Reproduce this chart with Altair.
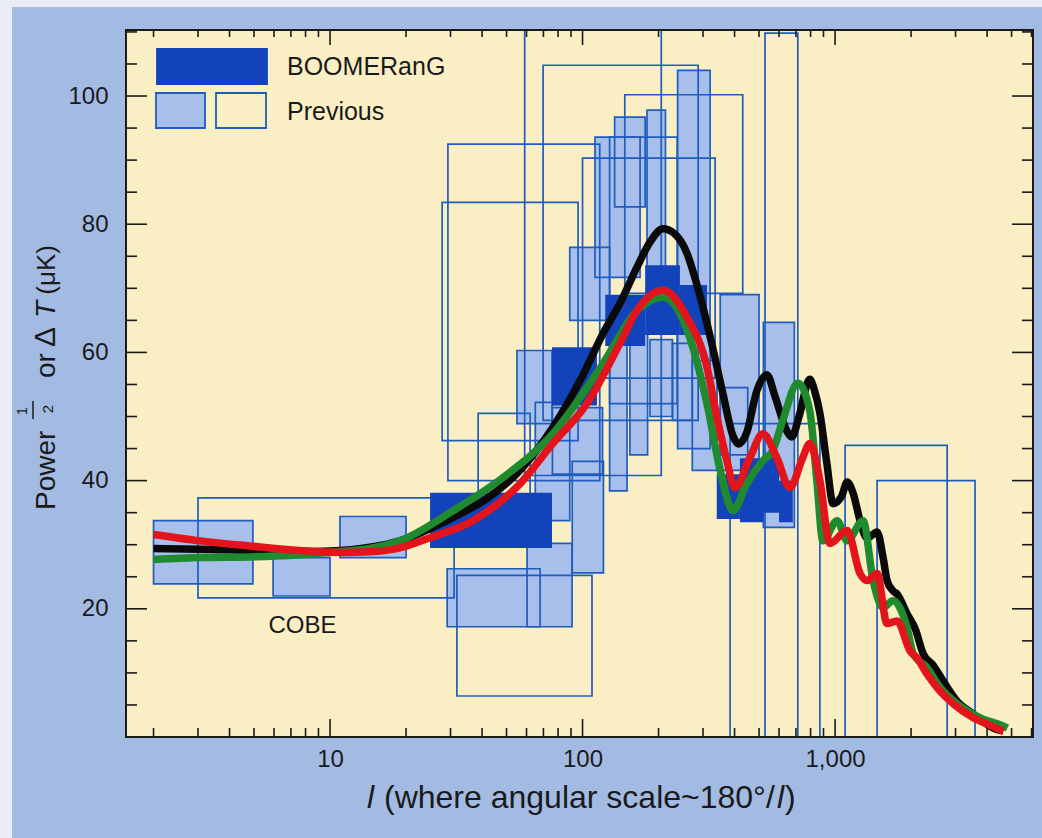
import altair as alt
import pandas as pd

W, H = 907, 707
X_DOM = [1.556, 6080]
Y_DOM = [0, 110.3]

# ---- BOOMERanG band powers (multipole range, ΔT range in μK) ----
boom_l_lo = [24.9, 75.7, 123.0, 177.0, 243.0, 340.0, 420.0, 520.0, 600.0]
boom_l_hi = [75.7, 114.0, 177.0, 243.0, 311.0, 420.0, 520.0, 600.0, 680.0]
boom_t_lo = [29.5, 51.7, 61.0, 62.7, 62.7, 34.0, 33.5, 35.0, 33.5]
boom_t_hi = [38.1, 60.8, 69.0, 73.6, 70.5, 41.0, 43.5, 44.0, 40.0]

# ---- previous experiments: filled boxes ----
prevf_l_lo = [2.0, 5.95, 10.95, 29.1, 60.3, 55.0, 65.0, 76.0, 91.0, 89.0, 112.0, 134.0, 180.0, 238.0,
              351.0, 520.0, 128.0, 154.0, 185.0, 227.0, 272.0, 351.0]
prevf_l_hi = [4.95, 10.0, 20.0, 67.9, 90.9, 75.7, 89.0, 120.0, 121.0, 128.0, 169.0, 177.0, 213.0, 320.0,
              500.0, 690.0, 150.0, 181.0, 227.0, 272.0, 341.0, 451.0]
prevf_t_lo = [23.9, 22.0, 28.0, 17.2, 17.2, 48.9, 33.75, 41.0, 25.6, 65.0, 71.7, 82.7, 68.0, 45.0,
              41.6, 32.7, 38.4, 44.0, 50.0, 49.4, 41.6, 44.0]
prevf_t_hi = [33.75, 28.0, 34.4, 26.25, 30.2, 60.3, 52.2, 51.4, 43.0, 76.4, 93.6, 96.7, 97.8, 104.0,
              69.0, 64.7, 62.0, 63.0, 62.0, 61.4, 58.75, 54.5]

# ---- previous experiments: open boxes ----
prevo_l_lo = [3.0, 27.8, 29.3, 59.0, 69.8, 147.0, 100.0, 128.0, 38.6, 31.8,
              528.0, 384.0, 1096.0, 1467.0]
prevo_l_hi = [31.0, 96.0, 117.0, 205.0, 287.0, 431.0, 335.0, 237.0, 62.0, 109.0,
              712.0, 871.0, 2780.0, 3584.0]
prevo_t_lo = [21.7, 46.25, 40.0, 40.8, 49.4, 69.2, 56.0, 52.0, 36.0, 6.4,
              0.0, 0.0, 0.0, 0.0]
prevo_t_hi = [37.3, 83.4, 92.5, 115.0, 104.8, 100.2, 90.3, 93.6, 50.5, 25.2,
              109.8, 48.9, 45.5, 40.0]

# ---- model curves ----
black_l = [2.0, 3.06, 4.82, 7.6, 10, 14.4, 18.9, 24.9, 32.7, 41.8, 56.5, 76.3, 97.8, 120.7, 140.9,
           164.3, 185, 208, 230, 259, 284, 320, 360, 394, 415, 447, 490, 537, 580, 640, 674, 720,
           794, 830, 871, 928, 982, 1060, 1117, 1180, 1256, 1338, 1467, 1550, 1607, 1697, 1760,
           1930, 2076, 2233, 2445, 2679, 3042, 3524, 4232, 4640]
black_t = [29.4, 29.3, 29.1, 28.9, 29.0, 29.6, 30.6, 32.5, 34.8, 37.2, 41.6, 48.3, 55.6, 63.0, 67.7,
           73.3, 77.2, 79.3, 78.6, 75.5, 70.5, 62.5, 53.5, 47.0, 45.7, 47.5, 54.0, 56.5, 53.0, 48.0, 46.8, 50.0,
           55.8, 54.0, 50.5, 42.7, 36.4, 37.5, 39.8, 38.0, 33.75, 31.0, 32.0, 28.0, 24.4, 22.8, 22.3,
           19.2, 16.9, 13.0, 11.2, 8.75, 5.6, 3.6, 1.4, 0.9]

red_l = [2.0, 3.06, 4.82, 7.6, 11, 14.4, 18.9, 24.9, 36.8, 56.5, 76.3, 104, 141, 164, 208, 259, 311,
         341, 373, 401, 460, 518, 588, 662, 745, 794, 871, 954, 1117, 1256, 1338, 1467, 1607, 1760,
         1983, 2114, 2316, 2536, 2935, 3524, 4006, 4640]
red_t = [31.6, 30.6, 29.8, 29.1, 28.8, 28.9, 29.5, 31.1, 33.75, 39.5, 45.8, 52.0, 61.5, 66.5, 69.7, 65.5, 57.7,
         49.8, 43.1, 38.9, 43.6, 47.3, 43.6, 38.9, 43.6, 45.8, 40.0, 30.2, 32.2, 25.5, 24.4, 25.5, 17.7, 18.1,
         13.4, 12.3, 9.8, 7.7, 5.2, 3.0, 2.0, 0.9]

green_l = [2.0, 3.06, 4.82, 6.9, 10, 14.4, 18.9, 30.7, 48.5, 76.3, 120.7, 164, 208, 266, 311, 351, 394,
           447, 518, 567, 621, 712, 794, 847, 895, 1019, 1117, 1290, 1415, 1549, 1697, 1930, 2038,
           2316, 2607, 3042, 3757, 4640, 4815]
green_t = [27.7, 28.0, 28.1, 28.3, 28.8, 29.4, 30.6, 35.3, 40.5, 47.3, 58.3, 66.5, 68.6, 62.3, 52.0, 41.6, 35.3,
           39.5, 43.1, 44.7, 49.4, 55.2, 50.9, 40.0, 30.6, 33.75, 30.6, 33.75, 24.4, 20.2, 21.25, 17.0, 13.0,
           10.8, 7.7, 5.2, 3.0, 1.7, 1.4]

# ---- axis ticks ----
x_major = [10, 100, 1000]
x_minor = [2, 3, 4, 5, 6, 7, 8, 9, 20, 30, 40, 50, 60, 70, 80, 90,
           200, 300, 400, 500, 600, 700, 800, 900, 2000, 3000, 4000, 5000, 6000]
y_major = [20, 40, 60, 80, 100]
y_minor = [5, 10, 15, 25, 30, 35, 45, 50, 55, 65, 70, 75, 85, 90, 95, 105, 110]

BLUE_BG = "#A3BBE3"
PAPER = "#FAEFC4"
LIGHT = "#A9BFEB"
EDGE = "#1E5DBE"
DARK = "#1243BB"
INK = "#1a1a1a"
FONT = "Liberation Sans"

xs = alt.Scale(type="log", domain=X_DOM, nice=False)
ys = alt.Scale(domain=Y_DOM, nice=False, zero=False)
x_axis = alt.Axis(values=x_major, format=",", title=None, tickSize=0, domain=False, grid=False,
                  labelFontSize=24, labelFont=FONT, labelColor=INK, labelPadding=10, zindex=2)
y_axis = alt.Axis(values=y_major, title=None, tickSize=0, domain=False, grid=False,
                  labelFontSize=24, labelFont=FONT, labelColor=INK, labelPadding=18, zindex=2)


def X(field):
    return alt.X(field, scale=xs, axis=x_axis)


def Y(field):
    return alt.Y(field, scale=ys, axis=y_axis)


boom = pd.DataFrame({"l0": boom_l_lo, "l1": boom_l_hi, "t0": boom_t_lo, "t1": boom_t_hi})
prevf = pd.DataFrame({"l0": prevf_l_lo, "l1": prevf_l_hi, "t0": prevf_t_lo, "t1": prevf_t_hi})
prevo = pd.DataFrame({"l0": prevo_l_lo, "l1": prevo_l_hi, "t0": prevo_t_lo, "t1": prevo_t_hi})
prev_all = pd.concat([prevf, prevo], ignore_index=True)

curves = pd.concat([
    pd.DataFrame({"l": black_l, "t": black_t, "model": "a_black"}),
    pd.DataFrame({"l": green_l, "t": green_t, "model": "b_green"}),
    pd.DataFrame({"l": red_l, "t": red_t, "model": "c_red"}),
], ignore_index=True)

one = pd.DataFrame({"k": [0]})

# page backdrop (blue page) and plot paper
backdrop = alt.Chart(one).mark_rect(color=BLUE_BG).encode(
    x=alt.value(-114), x2=alt.value(W + 9), y=alt.value(-23), y2=alt.value(H + 101))
paper = alt.Chart(one).mark_rect(color=PAPER).encode(
    x=alt.value(0), x2=alt.value(W), y=alt.value(0), y2=alt.value(H))

fills = alt.Chart(prevf).mark_rect(color=LIGHT, clip=True).encode(
    x=X("l0:Q"), x2="l1:Q", y=Y("t0:Q"), y2="t1:Q")
outlines = alt.Chart(prev_all).mark_rect(fill=None, stroke=EDGE, strokeWidth=1.7, clip=True).encode(
    x=X("l0:Q"), x2="l1:Q", y=Y("t0:Q"), y2="t1:Q")
boom_rects = alt.Chart(boom).mark_rect(color=DARK, clip=True).encode(
    x=X("l0:Q"), x2="l1:Q", y=Y("t0:Q"), y2="t1:Q")

lines = alt.Chart(curves).mark_line(interpolate="monotone", clip=True).encode(
    x=X("l:Q"), y=Y("t:Q"),
    color=alt.Color("model:N", scale=alt.Scale(domain=["a_black", "b_green", "c_red"],
                                               range=["#0a0a0a", "#1f8a2e", "#e3141b"]), legend=None),
    strokeWidth=alt.StrokeWidth("model:N", scale=alt.Scale(domain=["a_black", "b_green", "c_red"],
                                                           range=[7.5, 7.5, 5.5]), legend=None),
    detail="model:N",
)

# inward tick marks on all four sides
xmaj = pd.DataFrame({"l": x_major})
xmin = pd.DataFrame({"l": x_minor})
ymaj = pd.DataFrame({"t": y_major})
ymin = pd.DataFrame({"t": y_minor})


def xticks(df, y0, y1):
    return alt.Chart(df).mark_rule(color=INK, strokeWidth=1.6).encode(
        x=X("l:Q"), y=alt.value(y0), y2=alt.value(y1))


def yticks(df, x0, x1):
    return alt.Chart(df).mark_rule(color=INK, strokeWidth=1.6).encode(
        y=Y("t:Q"), x=alt.value(x0), x2=alt.value(x1))


ticks = [
    xticks(xmaj, H, H - 18), xticks(xmin, H, H - 9),
    xticks(xmaj, 0, 15), xticks(xmin, 0, 7),
    yticks(ymaj, 0, 21), yticks(ymin, 0, 11),
    yticks(ymaj, W, W - 21), yticks(ymin, W, W - 11),
]

frame = alt.Chart(one).mark_rect(fill=None, stroke=INK, strokeWidth=2).encode(
    x=alt.value(0), x2=alt.value(W), y=alt.value(0), y2=alt.value(H))

# legend
leg_rects = pd.DataFrame({
    "x0": [31, 30, 90], "x1": [141, 79, 140],
    "y0": [19, 63, 63], "y1": [54, 98, 98],
    "fill": [DARK, LIGHT, PAPER], "stroke": [DARK, EDGE, EDGE],
})
legend_boxes = alt.Chart(leg_rects).mark_rect(strokeWidth=1.8).encode(
    x=alt.X("x0:Q", scale=None), x2="x1:Q", y=alt.Y("y0:Q", scale=None), y2="y1:Q",
    fill=alt.Fill("fill:N", scale=None), stroke=alt.Stroke("stroke:N", scale=None))
leg_text = pd.DataFrame({"x": [161, 161], "y": [45, 90], "txt": ["BOOMERanG", "Previous"]})
legend_labels = alt.Chart(leg_text).mark_text(align="left", baseline="alphabetic", fontSize=25,
                                              font=FONT, color=INK).encode(
    x=alt.X("x:Q", scale=None), y=alt.Y("y:Q", scale=None), text="txt:N")

cobe = alt.Chart(pd.DataFrame({"l": [7.78], "t": [16.25], "txt": ["COBE"]})).mark_text(
    align="center", baseline="alphabetic", fontSize=24, font=FONT, color=INK).encode(
    x=X("l:Q"), y=Y("t:Q"), text="txt:N")


# axis titles built from pieces (italic symbols, stacked ½)
def label(txt, x, y, size=28, style="normal", align="left", angle=0, baseline="alphabetic"):
    return alt.Chart(one).mark_text(text=txt, align=align, baseline=baseline, fontSize=size,
                                    font=FONT, fontStyle=style, color=INK, angle=angle).encode(
        x=alt.value(x), y=alt.value(y))


xt_y = H + 71
x_title = [
    label("l", 241, xt_y, size=32, style="italic"),
    label("(where angular scale", 258, xt_y, size=32),
    label("~180°/", 555, xt_y, size=32),
    label("l", 651, xt_y, size=32, style="italic"),
    label(")", 659, xt_y, size=32),
]
yt_x = -71
y_title = [
    label("Power", yt_x, 480, angle=270),
    label("1", -104, 381, size=15, angle=270, align="center", baseline="middle"),
    alt.Chart(one).mark_rule(color=INK, strokeWidth=1.5).encode(
        x=alt.value(-93), x2=alt.value(-93), y=alt.value(371), y2=alt.value(389)),
    label("2", -78, 379, size=15, angle=270, align="center", baseline="middle"),
    label("or", yt_x, 348, angle=270),
    label("Δ", yt_x, 317, size=30, angle=270),
    label("T", yt_x, 288, angle=270, style="italic"),
    label("(μK)", yt_x, 215, size=26, angle=270, align="right"),
]

chart = alt.layer(
    backdrop, paper, fills, outlines, boom_rects, lines, cobe,
    *ticks, frame, legend_boxes, legend_labels, *x_title, *y_title,
).properties(
    width=W, height=H,
    background="#E9ECF4",
    padding={"left": 126, "top": 30, "right": 9, "bottom": 101},
    autosize=alt.AutoSizeParams(type="none"),
).configure_view(stroke=None)

chart.save("out.html", embed_options={"renderer": "svg", "actions": False})
